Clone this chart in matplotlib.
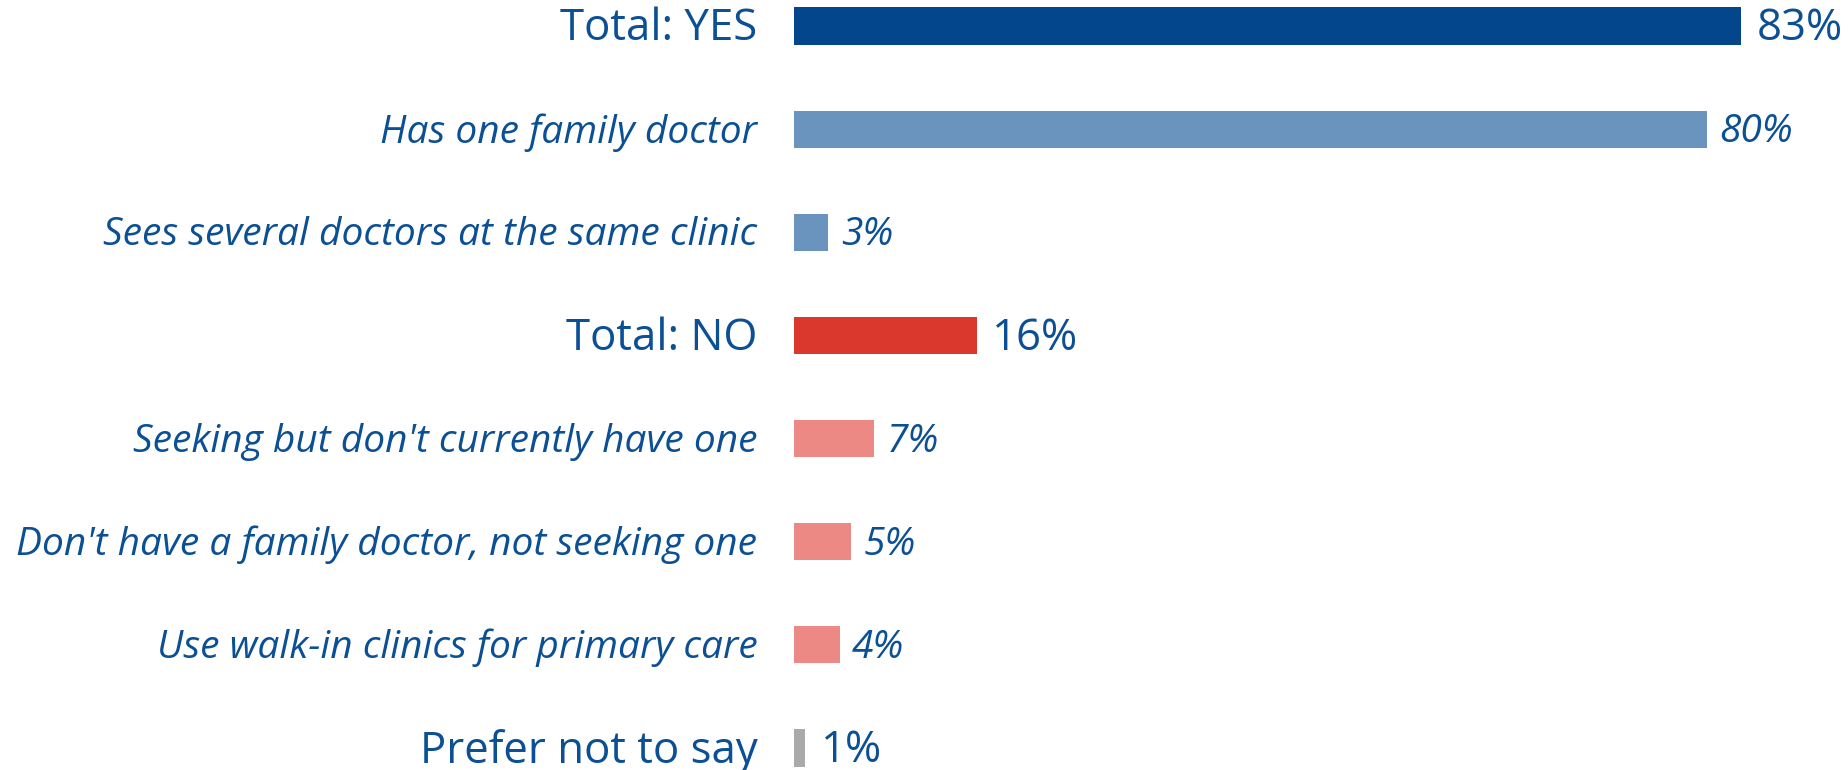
import matplotlib
matplotlib.use("Agg")
import matplotlib.pyplot as plt

labels = ["Total: YES", "Has one family doctor", "Sees several doctors at the same clinic",
          "Total: NO", "Seeking but don't currently have one",
          "Don't have a family doctor, not seeking one", "Use walk-in clinics for primary care",
          "Prefer not to say"]
values = [83, 80, 3, 16, 7, 5, 4, 1]
is_total = [True, False, False, True, False, False, False, True]
colors = ["#03468c", "#6a93bd", "#6a93bd", "#da372d", "#ec8984", "#ec8984", "#ec8984", "#aaaaaa"]

text_color = "#0b4f94"
plt.rcParams['font.family'] = ['Open Sans', 'DejaVu Sans']

fig = plt.figure(figsize=(18.48, 7.7), dpi=100)
ax = fig.add_axes([794 / 1848, 0, 1 - 794 / 1848, 1])

ypos = list(range(len(values)))
ax.barh(ypos, values, height=0.36, color=colors)
ax.set_xlim(0, 92.4)
ax.set_ylim(7.213, -0.252)
ax.axis('off')

for y, lab, v, tot in zip(ypos, labels, values, is_total):
    ty = y + 0.03
    if tot:
        ax.text(-3.2, ty, lab, ha='right', va='center', fontsize=31.5, color=text_color)
        ax.text(v + 1.4, ty, f"{v}%", ha='left', va='center', fontsize=31.5, color=text_color)
    else:
        ax.text(-3.2, ty, lab, ha='right', va='center', fontsize=28, color=text_color,
                style='italic')
        ax.text(v + 1.1, ty, f"{v}%", ha='left', va='center', fontsize=28, color=text_color,
                style='italic')

fig.savefig("out.png", dpi=100)
